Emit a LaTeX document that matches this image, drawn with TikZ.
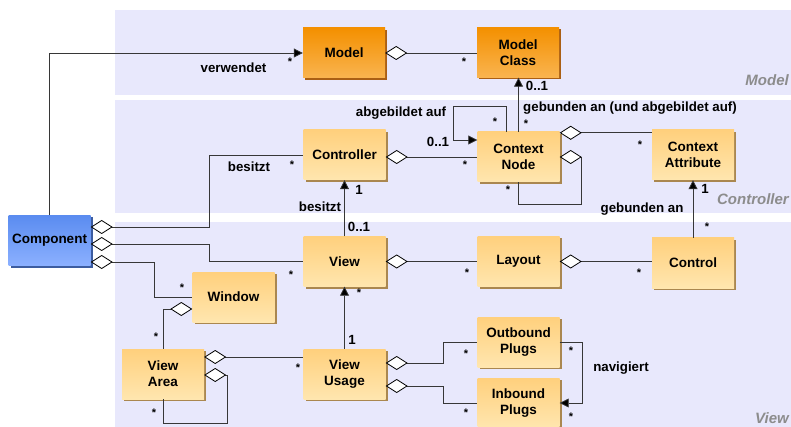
\documentclass[tikz,border=0pt]{standalone}
\usepackage{fontspec}
\setmainfont{Liberation Sans}
\usetikzlibrary{arrows.meta,shadows,calc}
\definecolor{band}{RGB}{232,232,252}
\definecolor{boxtop}{RGB}{255,208,125}
\definecolor{boxbot}{RGB}{255,230,175}
\definecolor{boxshadow}{RGB}{170,135,80}
\definecolor{orgtop}{RGB}{244,144,0}
\definecolor{orgbot}{RGB}{249,180,80}
\definecolor{orgshadow}{RGB}{170,95,20}
\definecolor{blutop}{RGB}{90,140,240}
\definecolor{blubot}{RGB}{140,176,255}
\definecolor{blushadow}{RGB}{60,92,160}
\definecolor{linec}{RGB}{55,55,55}
\definecolor{bandlabel}{RGB}{140,140,140}
\begin{document}
\begin{tikzpicture}[x=1pt,y=-1pt,
  cls/.style={minimum width=82pt,minimum height=50pt,inner sep=0pt,align=center,
    font=\fontsize{13.5}{16}\selectfont\bfseries,top color=boxtop,bottom color=boxbot,
    drop shadow={shadow xshift=2pt,shadow yshift=-2pt,fill=boxshadow,opacity=1}},
  mcls/.style={cls,top color=orgtop,bottom color=orgbot,
    drop shadow={shadow xshift=2pt,shadow yshift=-2pt,fill=orgshadow,opacity=1}},
  ccls/.style={cls,top color=blutop,bottom color=blubot,
    drop shadow={shadow xshift=2pt,shadow yshift=-2pt,fill=blushadow,opacity=1}},
  conn/.style={draw=linec,line width=0.8pt},
  arr/.style={conn,-{Triangle[length=9pt,width=9pt,fill=black]}},
  agg/.style={conn,{Diamond[length=22pt,width=14pt,fill=white,color=black]}-},
  lbl/.style={inner sep=0pt,font=\fontsize{13.3}{15}\selectfont\bfseries},
  mult/.style={inner sep=0pt,font=\fontsize{11}{11}\selectfont\bfseries},
  bandlbl/.style={inner sep=0pt,anchor=base east,text=bandlabel,
    font=\fontsize{15}{15}\selectfont\bfseries\itshape}]
\useasboundingbox (0,0) rectangle (791,427);
% bands
\fill[band] (115,10) rectangle (791,95);
\fill[band] (115,100) rectangle (791,213);
\fill[band] (115,222) rectangle (791,427);
\node[bandlbl] (lModel) at (789,86) {Model};
\node[bandlbl] (lController) at (789,205) {Controller};
\node[bandlbl] (lView) at (789,423) {View};
% classes
\node[mcls] (Model) at (344,53) {Model};
\node[mcls] (ModelClass) at (518,52.5) {Model\\Class};
\node[cls] (Controller) at (344.5,155) {Controller};
\node[cls] (ContextNode) at (518.5,157) {Context\\Node};
\node[cls] (ContextAttribute) at (693,155) {Context\\Attribute};
\node[ccls] (Component) at (49.5,240.5) {Component};
\node[cls] (View) at (344.5,261.5) {View};
\node[cls] (Layout) at (518.5,261.5) {Layout};
\node[cls] (Control) at (693,263) {Control};
\node[cls] (Window) at (233.5,297) {Window};
\node[cls] (ViewArea) at (163,374) {View\\Area};
\node[cls] (ViewUsage) at (344.5,374) {View\\Usage};
\node[cls] (Outbound) at (518.5,342) {Outbound\\Plugs};
\node[cls] (Inbound) at (518.5,403) {Inbound\\Plugs};
% connectors
\draw[arr] (Component.north) |- (Model.west);
\draw[agg] (Model.east) -- (Model.east -| ModelClass.west);
\draw[arr] (ContextNode.north) -- (ContextNode.north |- ModelClass.south);
\draw[arr] ([xshift=-12pt]ContextNode.north) -- ++(0,-25) -| ([xshift=-24pt,yshift=17pt]ContextNode.west) -- ([yshift=17pt]ContextNode.west);
\draw[agg] (Controller.east |- ContextNode.west) -- (ContextNode.west);
\draw[agg] ([yshift=-1pt]ContextNode.north east) -- ([yshift=-1pt]ContextNode.north east -| ContextAttribute.west);
\draw[agg] (ContextNode.east) -| ++(22,47) -| (ContextNode.south);
\draw[arr] (Control.north) -- (Control.north |- ContextAttribute.south);
\draw[agg] (Component.east |- 0,227) -| (209,155) -- (Controller.west);
\draw[arr] (View.north) -- (Controller.south);
\draw[agg] (Component.east |- 0,244) -| (209,261.5) -- (View.west);
\draw[agg] (Component.east |- 0,262) -| (154,297) -- (Window.west);
\draw[agg] ([yshift=-12pt]Window.west) -| (ViewArea.north);
\draw[agg] ([yshift=17pt]ViewArea.east) -- ([yshift=17pt]ViewArea.east -| ViewUsage.west);
\draw[agg] ([yshift=-1pt]ViewArea.east) -| ++(23,48) -| (ViewArea.south);
\draw[arr] (ViewUsage.north) -- (View.south);
\draw[agg] (View.east) -- (Layout.west);
\draw[agg] (Layout.east) -- (Layout.east -| Control.west);
\draw[agg] ([yshift=11pt]ViewUsage.east) -| (443,342) -- (Outbound.west);
\draw[agg] ([yshift=-12pt]ViewUsage.east) -| (443,403) -- (Inbound.west);
\draw[arr] (Outbound.east) -| (582,403) -- (Inbound.east);
% labels
\node[lbl] (t1) at (233.5,68) {verwendet};
\node[mult] (m1) at (290,62) {*};
\node[mult] (m2) at (464,62) {*};
\node[lbl] (t2) at (537,86) {0..1};
\node[lbl] (t3) at (630,108) {gebunden an (und abgebildet auf)};
\node[mult] (m3) at (526,124) {*};
\node[lbl] (t4) at (401,113) {abgebildet auf};
\node[mult] (m4) at (495,122) {*};
\node[lbl] (t5) at (438,142) {0..1};
\node[mult] (m5) at (465,165) {*};
\node[mult] (m6) at (640,145) {*};
\node[mult] (m7) at (508,190) {*};
\node[lbl] (t6) at (249,167) {besitzt};
\node[mult] (m8) at (292,165) {*};
\node[lbl] (t7) at (359,190) {1};
\node[lbl] (t8) at (320,207) {besitzt};
\node[lbl] (t9) at (359,227) {0..1};
\node[lbl] (t10) at (705,189) {1};
\node[lbl] (t11) at (642,209) {gebunden an};
\node[mult] (m9) at (707,227) {*};
\node[mult] (m10) at (291,275) {*};
\node[mult] (m11) at (182,288) {*};
\node[mult] (m12) at (359,293) {*};
\node[mult] (m13) at (156,337) {*};
\node[lbl] (t12) at (352,340) {1};
\node[mult] (m14) at (298,368) {*};
\node[mult] (m15) at (154,413) {*};
\node[mult] (m16) at (467,273) {*};
\node[mult] (m17) at (639,273) {*};
\node[mult] (m18) at (466,354) {*};
\node[mult] (m19) at (571,351) {*};
\node[lbl] (t13) at (621,368) {navigiert};
\node[mult] (m20) at (466,413) {*};
\node[mult] (m21) at (571,417) {*};
\end{tikzpicture}
\end{document}
